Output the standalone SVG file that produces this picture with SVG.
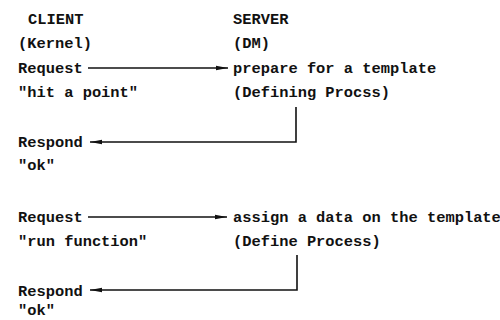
<svg xmlns="http://www.w3.org/2000/svg" width="500" height="320" viewBox="0 0 500 320">
<defs>
<style>
text{font-family:"Liberation Mono","DejaVu Sans Mono",monospace;font-weight:bold;font-size:15.4px;fill:#111}
.ln{stroke:#111;stroke-width:1.6;fill:none}
</style>
<marker id="ah" markerWidth="12" markerHeight="6" refX="12" refY="3" orient="auto" markerUnits="userSpaceOnUse">
<path d="M0,0.8 L12,3 L0,5.2 Z" fill="#111"/>
</marker>
</defs>
<rect width="500" height="320" fill="#fff"/>
<g id="client">
<text x="28" y="24">CLIENT</text>
<text x="18" y="48">(Kernel)</text>
</g>
<g id="server">
<text x="233" y="24">SERVER</text>
<text x="233" y="48">(DM)</text>
</g>
<g id="req1"><text x="18" y="73">Request</text><text x="18" y="97">"hit a point"</text></g>
<g id="srv1"><text x="233" y="73">prepare for a template</text><text x="233" y="97">(Defining Procss)</text></g>
<g id="resp1"><text x="18" y="147">Respond</text><text x="18" y="170">"ok"</text></g>
<g id="req2"><text x="18" y="222">Request</text><text x="18" y="246">"run function"</text></g>
<g id="srv2"><text x="233" y="222">assign a data on the template</text><text x="233" y="246">(Define Process)</text></g>
<g id="resp2"><text x="18" y="296">Respond</text><text x="18" y="315">"ok"</text></g>
<g id="connectors">
<path class="ln" d="M88,68 H228" marker-end="url(#ah)"/>
<path class="ln" d="M296,107 V142 H90" marker-end="url(#ah)"/>
<path class="ln" d="M88,217 H227" marker-end="url(#ah)"/>
<path class="ln" d="M297,255 V290 H90" marker-end="url(#ah)"/>
</g>
</svg>
